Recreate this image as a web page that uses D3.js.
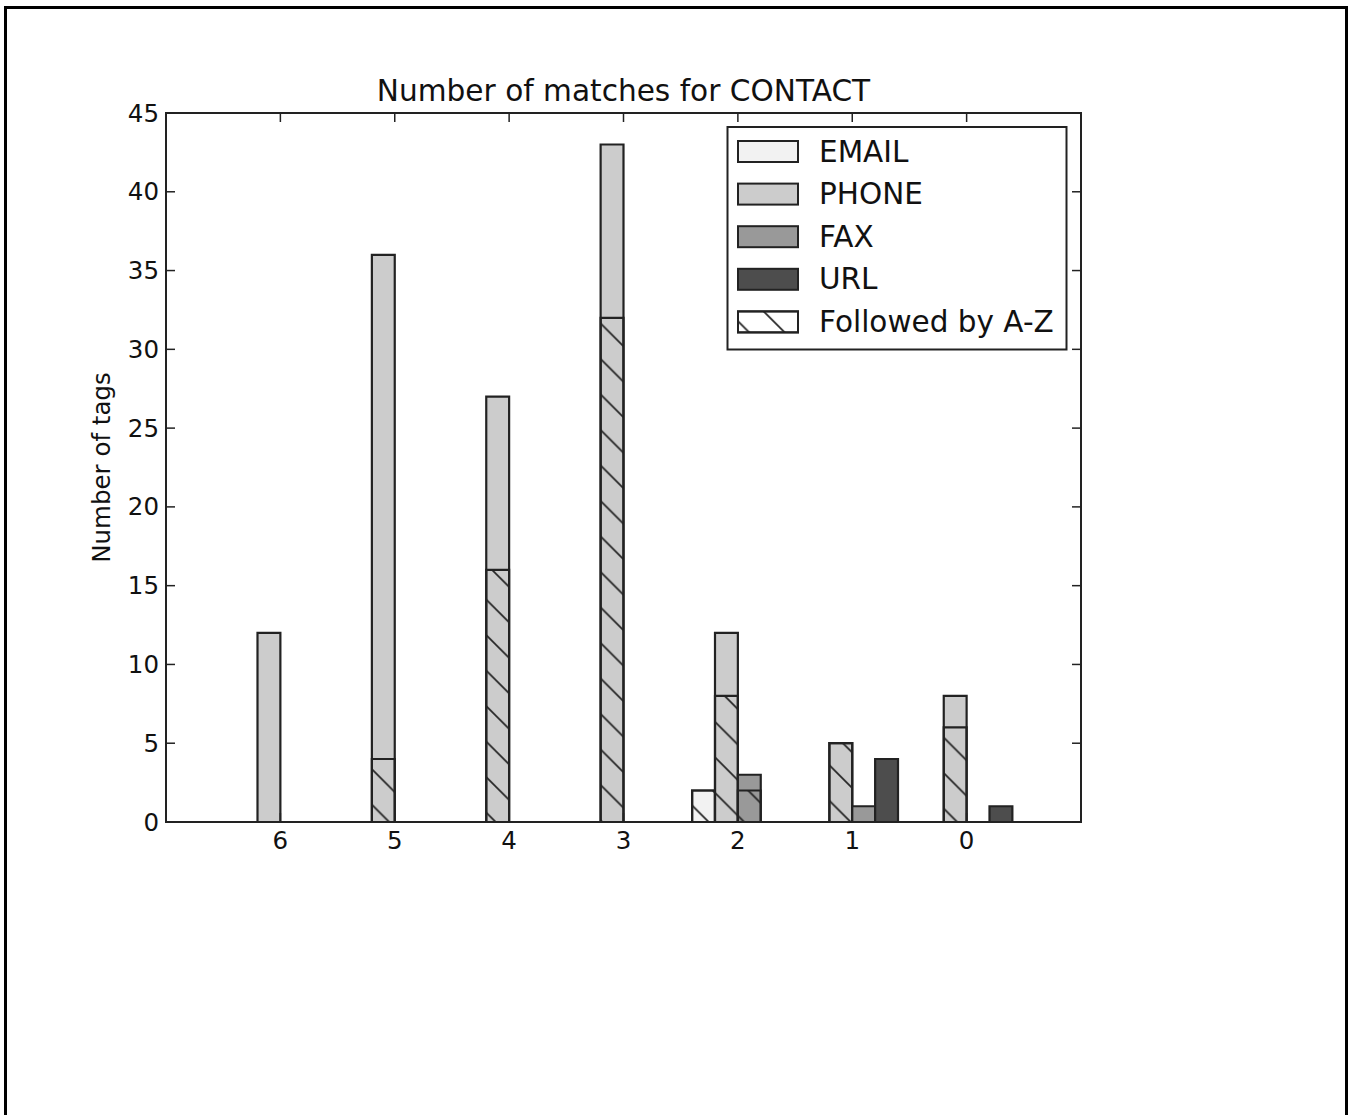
<!DOCTYPE html>
<html>
<head>
<meta charset="utf-8">
<script src="https://cdn.jsdelivr.net/npm/d3@7.9.0/dist/d3.min.js"></script>
<style>
  body { margin: 0; background: #fff; }
  svg { display: block; font-family: "DejaVu Sans", sans-serif; }
</style>
</head>
<body>
<div id="chart"></div>
<script>
// data
const groups = ['6', '5', '4', '3', '2', '1', '0'];
const seriesNames = ['EMAIL', 'PHONE', 'FAX', 'URL'];
const emailTotal = [0, 0, 0, 0, 2, 0, 0];
const emailAZ    = [0, 0, 0, 0, 2, 0, 0];
const phoneTotal = [12, 36, 27, 43, 12, 5, 8];
const phoneAZ    = [0, 4, 16, 32, 8, 5, 6];
const faxTotal   = [0, 0, 0, 0, 3, 1, 0];
const faxAZ      = [0, 0, 0, 0, 2, 0, 0];
const urlTotal   = [0, 0, 0, 0, 0, 4, 1];
const urlAZ      = [0, 0, 0, 0, 0, 0, 0];
const yTicks = [0, 5, 10, 15, 20, 25, 30, 35, 40, 45];

const colors = ['#f2f2f2', '#cccccc', '#999999', '#4d4d4d'];
const totals = [emailTotal, phoneTotal, faxTotal, urlTotal];
const azs = [emailAZ, phoneAZ, faxAZ, urlAZ];

const width = 1355, height = 1115;
const margin = { top: 113, right: 274, bottom: 293, left: 166 };
const plot = {
  left: margin.left,
  right: width - margin.right,
  top: margin.top,
  bottom: height - margin.bottom,
};
const barW = 0.2;
const ink = '#222';

const svg = d3.select('#chart').append('svg')
  .attr('width', width).attr('height', height);

svg.append('rect').attr('width', width).attr('height', height).attr('fill', '#fff');

// hatch pattern, 45 degree lines like the '\\' hatch
const H = 35.5;
const defs = svg.append('defs');
const pat = defs.append('pattern')
  .attr('id', 'hatch')
  .attr('patternUnits', 'userSpaceOnUse')
  .attr('x', 0).attr('y', 6.8)
  .attr('width', H).attr('height', H);
pat.append('path')
  .attr('d', `M${-H},${-H}L${2 * H},${2 * H}M0,${-H}L${2 * H},${H}M${-H},0L${H},${2 * H}`)
  .attr('stroke', ink).attr('stroke-width', 1.7).attr('fill', 'none');

const x = d3.scaleLinear().domain([-0.6, 7.4]).range([plot.left, plot.right]);
const y = d3.scaleLinear().domain([0, 45]).range([plot.bottom, plot.top]);

function barPath(x0, x1, v) {
  const y0 = y(0), y1 = y(v);
  return `M${x0},${y0}V${y1}H${x1}V${y0}Z`;
}

// bars: totals first, then the hatched part on top
const bars = svg.append('g').attr('class', 'bars');
seriesNames.forEach((name, k) => {
  const g = bars.append('g').attr('class', name);
  g.selectAll('path.total').data(totals[k]).join('path')
    .attr('class', 'total')
    .attr('d', (d, i) => barPath(x(i + k * barW), x(i + (k + 1) * barW), d))
    .attr('fill', colors[k])
    .attr('stroke', ink).attr('stroke-width', 2.2);
  g.selectAll('path.az').data(azs[k]).join('path')
    .attr('class', 'az')
    .attr('d', (d, i) => barPath(x(i + k * barW), x(i + (k + 1) * barW), d))
    .attr('fill', d => d > 0 ? 'url(#hatch)' : 'none')
    .attr('stroke', ink).attr('stroke-width', 2.2);
});

// frame of axes
svg.append('rect')
  .attr('x', plot.left).attr('y', plot.top)
  .attr('width', plot.right - plot.left).attr('height', plot.bottom - plot.top)
  .attr('fill', 'none').attr('stroke', ink).attr('stroke-width', 2);

// ticks (inward, all four sides)
const tl = 9;
const ticks = svg.append('g').attr('stroke', ink).attr('stroke-width', 1.5);
yTicks.forEach(t => {
  ticks.append('line').attr('x1', plot.left).attr('x2', plot.left + tl)
    .attr('y1', y(t)).attr('y2', y(t));
  ticks.append('line').attr('x1', plot.right).attr('x2', plot.right - tl)
    .attr('y1', y(t)).attr('y2', y(t));
});
groups.forEach((gname, i) => {
  const xc = x(i + 0.4);
  ticks.append('line').attr('x1', xc).attr('x2', xc)
    .attr('y1', plot.bottom).attr('y2', plot.bottom - tl);
  ticks.append('line').attr('x1', xc).attr('x2', xc)
    .attr('y1', plot.top).attr('y2', plot.top + tl);
});

// tick labels
svg.append('g').selectAll('text').data(yTicks).join('text')
  .attr('x', plot.left - 7).attr('y', d => y(d) + 8.5)
  .attr('text-anchor', 'end').attr('font-size', 24.5).attr('fill', '#111')
  .text(d => d);
svg.append('g').selectAll('text').data(groups).join('text')
  .attr('x', (d, i) => x(i + 0.4)).attr('y', plot.bottom + 27)
  .attr('text-anchor', 'middle').attr('font-size', 24.5).attr('fill', '#111')
  .text(d => d);

// title and axis label
svg.append('text')
  .attr('x', (plot.left + plot.right) / 2).attr('y', 101)
  .attr('text-anchor', 'middle').attr('font-size', 29.6).attr('fill', '#111')
  .text('Number of matches for CONTACT');
svg.append('text')
  .attr('transform', `translate(110, ${(plot.top + plot.bottom) / 2}) rotate(-90)`)
  .attr('text-anchor', 'middle').attr('font-size', 24.5).attr('fill', '#111')
  .text('Number of tags');

// legend
const legendItems = seriesNames.map((n, k) => ({ label: n, fill: colors[k] }))
  .concat([{ label: 'Followed by A-Z', fill: '#fff', hatch: true }]);
const legend = svg.append('g').attr('class', 'legend');
legend.append('rect')
  .attr('x', 727.5).attr('y', 127).attr('width', 339).attr('height', 222.5)
  .attr('fill', '#fff').attr('stroke', ink).attr('stroke-width', 2);
const items = legend.selectAll('g.item').data(legendItems).join('g')
  .attr('class', 'item')
  .attr('transform', (d, i) => `translate(0, ${151.5 + i * 42.6})`);
items.append('rect')
  .attr('x', 738).attr('y', -10.5).attr('width', 60).attr('height', 21)
  .attr('fill', d => d.fill).attr('stroke', ink).attr('stroke-width', 2);
items.filter(d => d.hatch).append('rect')
  .attr('x', 738).attr('y', -10.5).attr('width', 60).attr('height', 21)
  .attr('fill', 'url(#hatch)').attr('stroke', ink).attr('stroke-width', 2);
items.append('text')
  .attr('x', 819).attr('y', 10)
  .attr('font-size', 29.5).attr('fill', '#111')
  .text(d => d.label);

// outer border of the picture (open at the bottom)
svg.append('path')
  .attr('d', `M5.5,${height}V7.5H1346.5V${height}`)
  .attr('fill', 'none').attr('stroke', '#000').attr('stroke-width', 3);
</script>
</body>
</html>
